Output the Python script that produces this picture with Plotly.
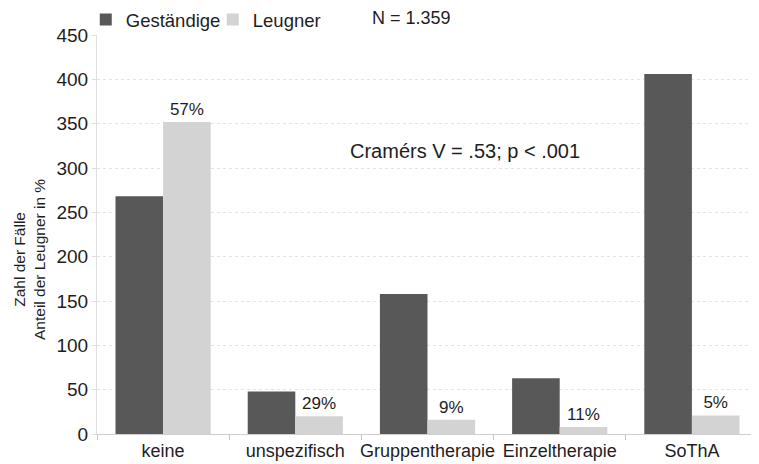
import plotly.graph_objects as go

categories = ["keine", "unspezifisch", "Gruppentherapie", "Einzeltherapie", "SoThA"]
gestaendige = [268, 48, 158, 63, 406]
leugner = [352, 20, 16, 8, 21]
leugner_pct = ["57%", "29%", "9%", "11%", "5%"]
y_ticks = [0, 50, 100, 150, 200, 250, 300, 350, 400, 450]

FONT = "Liberation Sans, Arial, sans-serif"
TXT = "#1e1e1e"

# page body has an 8px default margin; figure sized to fill the 759x464 window
W, H = 751, 456
ML, MR, MB = 89, 1, 30
PAPER_H = H - MB            # paper area spans figure y 0..426 (t=0)
PAPER_W = W - ML - MR
PLOT_TOP = 27               # figure px

fig = go.Figure()
fig.add_trace(go.Bar(
    x=categories, y=gestaendige, name="Geständige",
    marker=dict(color="#585858", line=dict(width=0)),
))
fig.add_trace(go.Bar(
    x=categories, y=leugner, name="Leugner",
    marker=dict(color="#d3d3d3", line=dict(width=0)),
    text=leugner_pct, textposition="outside", cliponaxis=False,
    textfont=dict(size=17, color=TXT, family=FONT),
))

fig.add_annotation(
    x=0.557, y=(PAPER_H - 143) / PAPER_H, xref="paper", yref="paper",
    text="Cramérs V = .53; p < .001", showarrow=False, yanchor="middle",
    font=dict(size=20, color=TXT, family=FONT),
)
fig.add_annotation(
    x=(362 - ML) / PAPER_W, y=(PAPER_H - 10) / PAPER_H, xref="paper", yref="paper",
    text="N = 1.359", showarrow=False, xanchor="left", yanchor="middle",
    font=dict(size=18, color=TXT, family=FONT),
)
# y-axis title (two lines), placed like the reference
fig.add_annotation(
    x=(21 - ML) / PAPER_W, y=(PAPER_H - 252) / PAPER_H, xref="paper", yref="paper",
    text="Zahl der Fälle<br>Anteil der Leugner in %", textangle=-90,
    showarrow=False, xanchor="center", yanchor="middle",
    font=dict(size=15.5, color=TXT, family=FONT),
)

fig.update_layout(
    width=W, height=H,
    margin=dict(l=ML, r=MR, t=0, b=MB, pad=0, autoexpand=False),
    paper_bgcolor="white", plot_bgcolor="white",
    barmode="group", bargap=0.28, bargroupgap=0,
    font=dict(family=FONT, color=TXT),
    showlegend=True,
    legend=dict(
        orientation="h", x=-0.017, y=(PAPER_H - 12) / PAPER_H,
        xanchor="left", yanchor="middle",
        font=dict(size=18.5, family=FONT, color=TXT),
        itemwidth=30, entrywidth=82, bgcolor="rgba(0,0,0,0)",
    ),
    xaxis=dict(
        showgrid=False, showline=True, linecolor="#cfcfcf", linewidth=1,
        ticks="outside", tickson="boundaries", ticklen=5, tickcolor="#c4c4c4",
        tickangle=0, automargin=False,
        tickfont=dict(size=18, family=FONT, color=TXT),
    ),
    yaxis=dict(
        domain=[0, (PAPER_H - PLOT_TOP) / PAPER_H],
        range=[0, 450], tickvals=y_ticks, showgrid=True, gridcolor="#e4e4e4",
        griddash="dot", gridwidth=1, automargin=False,
        showline=True, linecolor="#e0e0e0", ticks="outside", ticklen=4,
        tickcolor="#e0e0e0", zeroline=False,
        tickfont=dict(size=19, family=FONT, color=TXT),
    ),
)

fig.write_html("out.html")
